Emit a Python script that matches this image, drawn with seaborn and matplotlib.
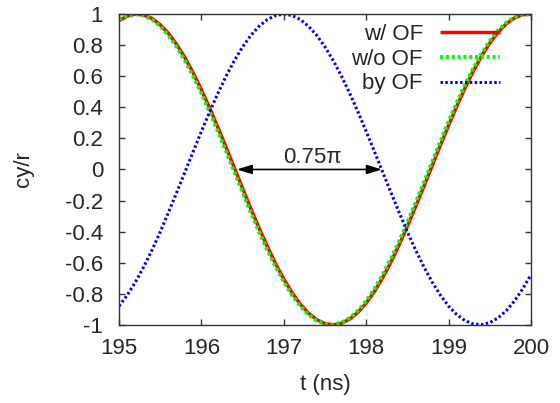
import numpy as np
import pandas as pd
import matplotlib
matplotlib.use("Agg")
import matplotlib.pyplot as plt
import matplotlib.ticker as mticker
import seaborn as sns

# time axis (ns), sampled every 0.1 ns
t_ns = [195.0, 195.1, 195.2, 195.3, 195.4, 195.5, 195.6, 195.7, 195.8, 195.9,
        196.0, 196.1, 196.2, 196.3, 196.4, 196.5, 196.6, 196.7, 196.8, 196.9,
        197.0, 197.1, 197.2, 197.3, 197.4, 197.5, 197.6, 197.7, 197.8, 197.9,
        198.0, 198.1, 198.2, 198.3, 198.4, 198.5, 198.6, 198.7, 198.8, 198.9,
        199.0, 199.1, 199.2, 199.3, 199.4, 199.5, 199.6, 199.7, 199.8, 199.9,
        200.0]

# w/ OF
cy_with_of = [0.958, 0.987, 1.000, 0.994, 0.972, 0.932, 0.876, 0.805, 0.720, 0.622,
              0.513, 0.396, 0.271, 0.142, 0.010, -0.122, -0.252, -0.377, -0.496, -0.606,
              -0.706, -0.793, -0.867, -0.925, -0.967, -0.992, -1.000, -0.990, -0.963, -0.920,
              -0.860, -0.785, -0.697, -0.596, -0.485, -0.365, -0.239, -0.109, 0.023, 0.155,
              0.284, 0.408, 0.525, 0.633, 0.729, 0.813, 0.883, 0.937, 0.975, 0.996,
              0.999]

# w/o OF
cy_without_of = [0.965, 0.991, 1.000, 0.991, 0.965, 0.922, 0.863, 0.789, 0.701, 0.601,
                 0.490, 0.371, 0.245, 0.115, -0.017, -0.148, -0.277, -0.402, -0.519, -0.627,
                 -0.724, -0.809, -0.880, -0.935, -0.973, -0.995, -0.999, -0.986, -0.956, -0.909,
                 -0.846, -0.768, -0.677, -0.574, -0.461, -0.340, -0.213, -0.083, 0.050, 0.181,
                 0.309, 0.432, 0.547, 0.652, 0.747, 0.828, 0.895, 0.946, 0.980, 0.998,
                 0.998]

# by OF
cy_by_of = [-0.879, -0.809, -0.724, -0.627, -0.519, -0.402, -0.277, -0.148, -0.017, 0.115,
            0.245, 0.371, 0.490, 0.601, 0.701, 0.789, 0.863, 0.922, 0.965, 0.991,
            1.000, 0.991, 0.965, 0.922, 0.863, 0.789, 0.701, 0.601, 0.490, 0.371,
            0.245, 0.115, -0.017, -0.148, -0.277, -0.402, -0.519, -0.627, -0.724, -0.809,
            -0.880, -0.935, -0.973, -0.995, -0.999, -0.986, -0.956, -0.909, -0.846, -0.768,
            -0.677]

# phase-difference arrow
arrow_x = [196.43, 198.19]
arrow_label = "0.75\u03c0"

x_ticks = [195, 196, 197, 198, 199, 200]
y_ticks = [-1, -0.8, -0.6, -0.4, -0.2, 0, 0.2, 0.4, 0.6, 0.8, 1]

sns.set_style("ticks")
plt.rcParams["font.family"] = ["Liberation Sans", "DejaVu Sans"]
plt.rcParams["axes.unicode_minus"] = False
FS = 16

df = pd.DataFrame({"t": t_ns, "with": cy_with_of, "without": cy_without_of, "by": cy_by_of})

fig = plt.figure(figsize=(5.6, 4.03), dpi=100)
ax = fig.add_axes([0.2125, 0.194, 0.7357, 0.771])

sns.lineplot(data=df, x="t", y="with", ax=ax, color="#ff0000", linewidth=2.5,
             label="w/ OF", solid_capstyle="butt")
sns.lineplot(data=df, x="t", y="without", ax=ax, color="#00ff00", linewidth=2.8,
             linestyle=(0, (0.8, 0.7)), dash_capstyle="butt", label="w/o OF")
sns.lineplot(data=df, x="t", y="by", ax=ax, color="#0000ff", linewidth=2.2,
             linestyle=(0, (0.8, 0.8)), dash_capstyle="butt", label="by OF")

ax.annotate("", xy=(arrow_x[0], 0), xytext=(arrow_x[1], 0),
            arrowprops=dict(arrowstyle="<|-|>,head_length=0.45,head_width=0.14",
                            mutation_scale=20, color="black", lw=1.2,
                            shrinkA=0, shrinkB=0))
ax.text(197.35, 0.04, arrow_label, ha="center", va="baseline", fontsize=FS)

ax.set_xlim(195, 200)
ax.set_ylim(-1, 1)
ax.set_xticks(x_ticks)
ax.set_yticks(y_ticks)
ax.yaxis.set_major_formatter(mticker.FuncFormatter(lambda v, p: "%g" % round(v, 1)))
ax.tick_params(direction="in", length=4, width=1, labelsize=FS,
               top=True, right=True, color="#333333")
ax.tick_params(axis="x", pad=9.5)
ax.tick_params(axis="y", pad=11.5)
for s in ax.spines.values():
    s.set_visible(True)
    s.set_color("#333333")
    s.set_linewidth(1.0)

ax.set_xlabel("t (ns)", fontsize=FS)
ax.set_ylabel("cy/r", fontsize=FS)
ax.xaxis.set_label_coords(0.5, -0.159)
ax.yaxis.set_label_coords(-0.206, 0.5)

ax.legend(loc="upper right", bbox_to_anchor=(0.893, 0.94), bbox_transform=fig.transFigure,
          frameon=False, markerfirst=False, fontsize=FS, handlelength=2.7,
          handletextpad=0.77, labelspacing=0.16, borderpad=0, borderaxespad=0)

fig.savefig("out.png", dpi=100)
